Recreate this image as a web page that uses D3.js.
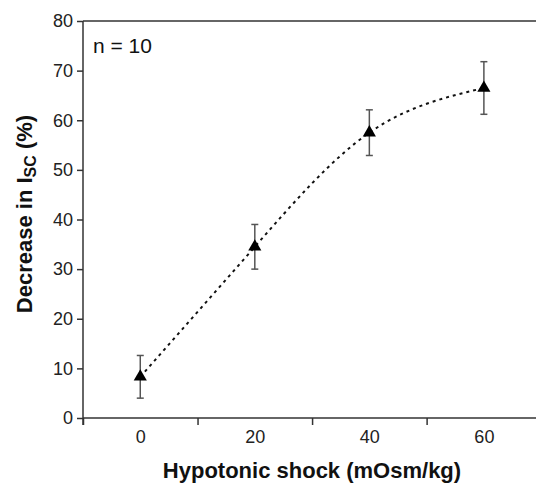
<!DOCTYPE html>
<html>
<head>
<meta charset="utf-8">
<script src="https://cdn.jsdelivr.net/npm/d3@7"></script>
<style>
  body { margin: 0; background: #fff; }
  svg { display: block; font-family: "Liberation Sans", Arial, sans-serif; }
</style>
</head>
<body>
<div id="chart"></div>
<script>
// data
const shock = [0, 20, 40, 60];          // mOsm/kg
const decrease = [8.3, 34.5, 57.5, 66.5]; // % decrease in Isc
const errs = [4.3, 4.5, 4.6, 5.3];
const yTicks = [0, 10, 20, 30, 40, 50, 60, 70, 80];
const xLabels = [0, 20, 40, 60];
const xMarks = [-10, 10, 30, 50];

const width = 536, height = 484;
const margin = { top: 21, right: 0, bottom: 66, left: 83 };

const svg = d3.select('#chart').append('svg')
    .attr('width', width)
    .attr('height', height);

const x = d3.scaleLinear()
    .domain([-10, 69.1])
    .range([margin.left, width - margin.right]);
const y = d3.scaleLinear()
    .domain([0, 80])
    .range([height - margin.bottom, margin.top]);

const axisColor = '#333';

// top frame line
svg.append('line')
    .attr('x1', x(-10)).attr('x2', width)
    .attr('y1', y(80)).attr('y2', y(80))
    .attr('stroke', axisColor)
    .attr('stroke-width', 1.5);

// x axis: ticks between labels
const xAxis = svg.append('g')
    .attr('transform', `translate(0,${y(0)})`)
    .call(d3.axisBottom(x).tickValues(xMarks).tickSize(7).tickFormat(''));
xAxis.select('.domain').attr('d', `M${x(-10)},0H${width}`);

const xLab = svg.append('g')
    .attr('transform', `translate(0,${y(0)})`)
    .call(d3.axisBottom(x).tickValues(xLabels).tickSize(0).tickPadding(12));
xLab.select('.domain').remove();

// y axis
const yAxis = svg.append('g')
    .attr('transform', `translate(${x(-10)},0)`)
    .call(d3.axisLeft(y).tickValues(yTicks).tickSize(6).tickPadding(4));
yAxis.select('.domain').attr('d', `M0,${y(80)}V${y(0) + 7}`);

svg.selectAll('.tick text')
    .attr('font-size', 18)
    .attr('font-family', '"Liberation Sans", Arial, sans-serif')
    .attr('fill', '#222');
svg.selectAll('.domain, .tick line')
    .attr('stroke', axisColor)
    .attr('stroke-width', 1.5);

// dotted curve
const pts = shock.map((d, i) => [d, decrease[i]]);
const line = d3.line()
    .x(d => x(d[0]))
    .y(d => y(d[1]))
    .curve(d3.curveNatural);
svg.append('path')
    .datum(pts)
    .attr('d', line)
    .attr('fill', 'none')
    .attr('stroke', '#111')
    .attr('stroke-width', 2)
    .attr('stroke-dasharray', '3,4');

// error bars
const eg = svg.append('g').attr('stroke', '#555').attr('stroke-width', 1.5);
pts.forEach((d, i) => {
    const cx = x(d[0]);
    const top = y(d[1] + errs[i]), bot = y(d[1] - errs[i]);
    eg.append('line').attr('x1', cx).attr('x2', cx).attr('y1', top).attr('y2', bot);
    eg.append('line').attr('x1', cx - 3.5).attr('x2', cx + 3.5).attr('y1', top).attr('y2', top);
    eg.append('line').attr('x1', cx - 3.5).attr('x2', cx + 3.5).attr('y1', bot).attr('y2', bot);
});

// triangles
svg.append('g').selectAll('path')
    .data(pts)
    .join('path')
    .attr('transform', d => `translate(${x(d[0])},${y(d[1])})`)
    .attr('d', d3.symbol(d3.symbolTriangle, 75))
    .attr('fill', '#000');

// n label
svg.append('text')
    .attr('x', 93).attr('y', 53)
    .attr('font-size', 21)
    .attr('fill', '#111')
    .text('n = 10');

// axis titles
svg.append('text')
    .attr('x', 312)
    .attr('y', 478)
    .attr('text-anchor', 'middle')
    .attr('font-size', 22)
    .attr('font-weight', 'bold')
    .attr('fill', '#111')
    .text('Hypotonic shock (mOsm/kg)');

const yt = svg.append('text')
    .attr('transform', 'translate(32,214) rotate(-90)')
    .attr('text-anchor', 'middle')
    .attr('font-size', 22)
    .attr('font-weight', 'bold')
    .attr('fill', '#111');
yt.append('tspan').text('Decrease in I');
yt.append('tspan').attr('font-size', 16).attr('dy', 4).text('SC');
yt.append('tspan').attr('dy', -4).text(' (%)');
</script>
</body>
</html>
